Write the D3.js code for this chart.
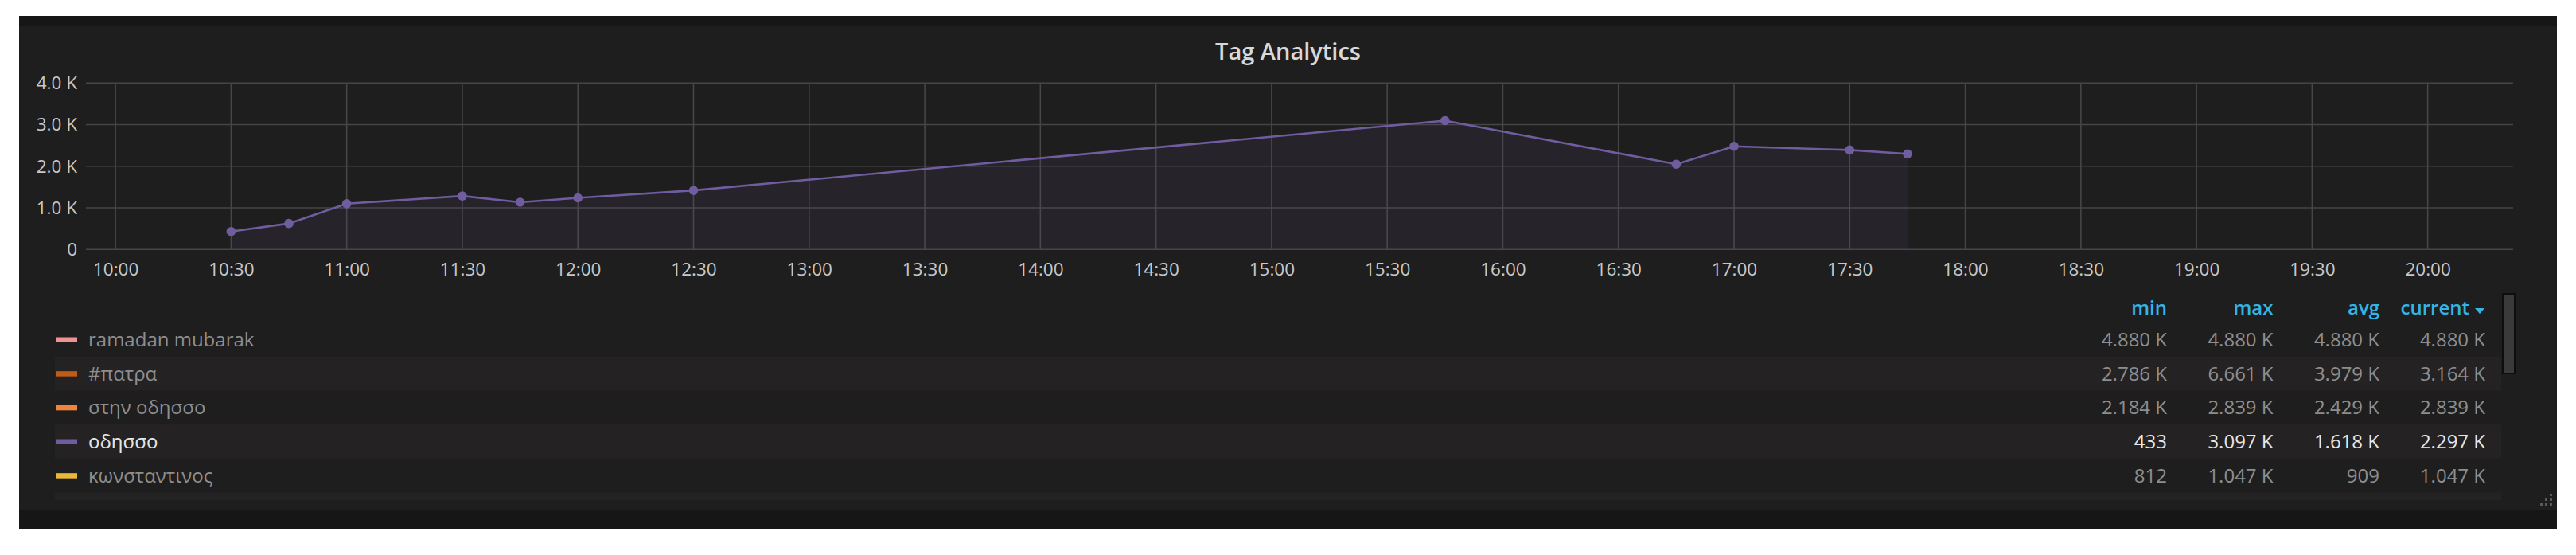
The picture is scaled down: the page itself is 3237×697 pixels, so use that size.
<!DOCTYPE html>
<html>
<head>
<meta charset="utf-8">
<script src="https://cdn.jsdelivr.net/npm/d3@7"></script>
<style>
  html, body { margin: 0; padding: 0; background: #ffffff; }
  svg { display: block; font-family: "Open Sans", "Noto Sans", sans-serif; }
</style>
</head>
<body>
<svg id="chart" width="3237" height="697"></svg>
<script>
// ---- data ----
const title = "Tag Analytics";
const pointTimes = ["10:30","10:45","11:00","11:30","11:45","12:00","12:30","15:45","16:45","17:00","17:30","17:45"];
const pointValues = [433, 625, 1100, 1285, 1135, 1240, 1420, 3097, 2050, 2480, 2390, 2297];
const yTicks = [0, 1000, 2000, 3000, 4000];
const timeStart = "09:52:20";
const timeEnd = "20:22:10";

const seriesNames = ["ramadan mubarak", "#πατρα", "στην οδησσο", "οδησσο", "κωνσταντινος"];
const seriesColors = ["#F29191", "#C15C17", "#EF843C", "#705DA0", "#EAB839"];
const seriesVisible = [false, false, false, true, false];
const statHeaders = ["min", "max", "avg", "current"];
const statMin = ["4.880 K", "2.786 K", "2.184 K", "433", "812"];
const statMax = ["4.880 K", "6.661 K", "2.839 K", "3.097 K", "1.047 K"];
const statAvg = ["4.880 K", "3.979 K", "2.429 K", "1.618 K", "909"];
const statCurrent = ["4.880 K", "3.164 K", "2.839 K", "2.297 K", "1.047 K"];

// ---- helpers ----
const day = [2017, 5, 25];
function toDate(s) {
  const p = s.split(":").map(Number);
  return new Date(day[0], day[1], day[2], p[0], p[1], p[2] || 0);
}
const points = pointTimes.map((t, i) => ({ t: toDate(t), v: pointValues[i] }));

const svg = d3.select("#chart");

// ---- panel ----
const panel = { x0: 24, x1: 3213, y0: 20, y1: 664 };
svg.append("rect").attr("x", panel.x0).attr("y", panel.y0)
  .attr("width", panel.x1 - panel.x0).attr("height", panel.y1 - panel.y0)
  .attr("fill", "#161616");
svg.append("rect").attr("x", panel.x0).attr("y", 33)
  .attr("width", panel.x1 - panel.x0).attr("height", 640 - 33)
  .attr("fill", "#1f1e1f");

// title
svg.append("text").attr("x", (panel.x0 + panel.x1) / 2).attr("y", 75)
  .attr("text-anchor", "middle").attr("fill", "#d8d9da")
  .attr("font-size", 29).attr("font-weight", 600).text(title);

// ---- scales ----
const plot = { left: 108, right: 3158, top: 104.3, bottom: 313.3 };
const x = d3.scaleTime().domain([toDate(timeStart), toDate(timeEnd)]).range([plot.left, plot.right]);
const y = d3.scaleLinear().domain([0, 4000]).range([plot.bottom, plot.top]);

const fmtY = v => v === 0 ? "0" : (v / 1000).toFixed(1) + " K";
const xTicks = x.ticks(d3.timeMinute.every(30));

// grid
const grid = svg.append("g");
grid.selectAll("line.h").data(yTicks).join("line")
  .attr("x1", plot.left).attr("x2", plot.right)
  .attr("y1", d => y(d)).attr("y2", d => y(d))
  .attr("stroke", "#464646").attr("stroke-width", 1.6);
grid.selectAll("line.v").data(xTicks).join("line")
  .attr("x1", d => x(d)).attr("x2", d => x(d))
  .attr("y1", plot.top).attr("y2", plot.bottom)
  .attr("stroke", "#464646").attr("stroke-width", 1.6);

// y axis labels
const yAxis = svg.append("g").attr("transform", `translate(${plot.left},0)`)
  .call(d3.axisLeft(y).tickValues(yTicks).tickFormat(fmtY).tickSize(0).tickPadding(11));
yAxis.select(".domain").remove();
yAxis.selectAll("text").attr("fill", "#c8c8c8").attr("font-size", 22.5)
  .attr("font-family", "Open Sans");

// x axis labels
const xAxis = svg.append("g").attr("transform", `translate(0,${plot.bottom})`)
  .call(d3.axisBottom(x).tickValues(xTicks).tickFormat(d3.timeFormat("%H:%M")).tickSize(0).tickPadding(17));
xAxis.select(".domain").remove();
xAxis.selectAll("text").attr("fill", "#c8c8c8").attr("font-size", 22.5)
  .attr("font-family", "Open Sans");

// area + line
const lineColor = seriesColors[3];
svg.append("path").datum(points)
  .attr("d", d3.area().x(d => x(d.t)).y0(y(0)).y1(d => y(d.v)))
  .attr("fill", lineColor).attr("fill-opacity", 0.1);
svg.append("path").datum(points)
  .attr("d", d3.line().x(d => x(d.t)).y(d => y(d.v)))
  .attr("fill", "none").attr("stroke", lineColor).attr("stroke-width", 2.6);
svg.append("g").selectAll("circle").data(points).join("circle")
  .attr("cx", d => x(d.t)).attr("cy", d => y(d.v)).attr("r", 5.8)
  .attr("fill", lineColor);

// ---- legend table ----
const rowH = 42.67;
const headY = 395;
const firstRowTop = 405;
const bandX0 = 69, bandX1 = 3143;
const colRight = [2723, 2856.5, 2990, 3103];
const valRight = [2723, 2856.5, 2990, 3123];

// bands (even rows lighter), including the partially visible 6th row
const bandRows = d3.range(6);
svg.append("g").selectAll("rect").data(bandRows).join("rect")
  .attr("x", bandX0).attr("width", bandX1 - bandX0)
  .attr("y", i => firstRowTop + i * rowH)
  .attr("height", i => Math.min(rowH, 628 - (firstRowTop + i * rowH)))
  .attr("fill", i => i % 2 === 1 ? "#242223" : "none");

// header
const head = svg.append("g").attr("font-size", 24).attr("font-weight", 600).attr("fill", "#33b5e5");
head.selectAll("text").data(statHeaders).join("text")
  .attr("x", (d, i) => colRight[i]).attr("y", headY).attr("text-anchor", "end").text(d => d);
head.append("path").attr("d", "M3110,387 L3122,387 L3116,394 Z").attr("fill", "#33b5e5");

// rows
const statCols = [statMin, statMax, statAvg, statCurrent];
const rows = svg.append("g").selectAll("g").data(seriesNames).join("g")
  .attr("transform", (d, i) => `translate(0,${firstRowTop + i * rowH})`);
rows.append("rect").attr("x", 70).attr("y", 18.5).attr("width", 27).attr("height", 6.5)
  .attr("fill", (d, i) => seriesColors[i]);
rows.append("text").attr("x", 111).attr("y", 30)
  .attr("font-size", 24)
  .attr("fill", (d, i) => seriesVisible[i] ? "#e6e6e6" : "#8e8e8e")
  .text(d => d);
statCols.forEach((col, c) => {
  rows.append("text").attr("x", valRight[c]).attr("y", 30).attr("text-anchor", "end")
    .attr("font-size", 24)
    .attr("fill", (d, i) => seriesVisible[i] ? "#e6e6e6" : "#8e8e8e")
    .text((d, i) => col[i]);
});

// scrollbar
svg.append("rect").attr("x", 3145).attr("y", 369).attr("width", 15).attr("height", 100)
  .attr("fill", "#3a3a3a").attr("stroke", "#0e0e0e").attr("stroke-width", 2);

// resize handle dots
const dots = [[3204,620],[3204,626],[3204,632],[3198,626],[3198,632],[3192,632]];
svg.append("g").selectAll("rect").data(dots).join("rect")
  .attr("x", d => d[0]).attr("y", d => d[1]).attr("width", 3).attr("height", 3)
  .attr("fill", "#5a5a5a");
</script>
</body>
</html>
